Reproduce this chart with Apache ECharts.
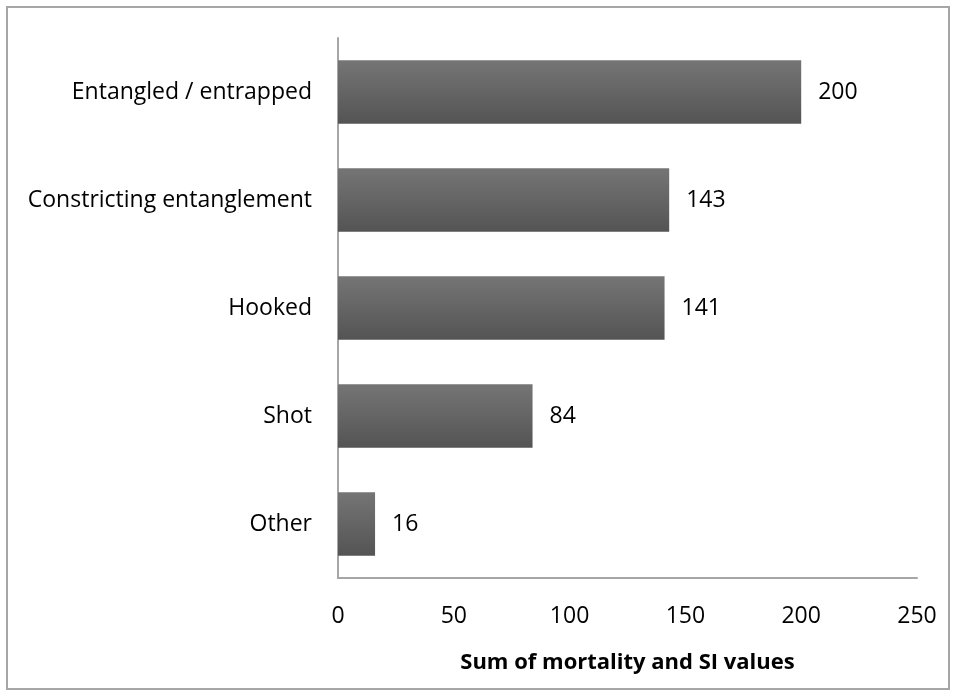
<!DOCTYPE html>
<html>
<head>
<meta charset="utf-8">
<script src="https://cdn.jsdelivr.net/npm/echarts@6/dist/echarts.min.js"></script>
<style>
  html, body { margin: 0; padding: 0; background: #fff; }
  #frame { position: absolute; left: 6px; top: 6px; width: 944px; height: 684px; border: 2px solid #a6a6a6; box-sizing: border-box; }
  #chart { width: 959px; height: 700px; }
</style>
</head>
<body>
<div id="frame"></div>
<div id="chart"></div>
<script>
  // categories from bottom to top (category axis starts at the bottom)
  var categories = ['Other', 'Shot', 'Hooked', 'Constricting entanglement', 'Entangled / entrapped']
  var values = [16, 84, 141, 143, 200]
  var xTicks = [0, 50, 100, 150, 200, 250]

  var font = '"Open Sans", sans-serif'
  var chart = echarts.init(document.getElementById('chart'))

  chart.setOption({
    animation: false,
    grid: {
      left: 338,
      right: 42,
      top: 38,
      bottom: 122,
      containLabel: false
    },
    xAxis: {
      type: 'value',
      min: xTicks[0],
      max: xTicks[xTicks.length - 1],
      interval: 50,
      name: 'Sum of mortality and SI values',
      nameLocation: 'middle',
      nameGap: 74,
      nameTextStyle: { fontFamily: font, fontSize: 22, fontWeight: 'bold', color: '#000' },
      axisLine: { show: true, lineStyle: { color: '#a6a6a6', width: 2 } },
      axisTick: { show: false },
      splitLine: { show: false },
      axisLabel: { fontFamily: font, fontSize: 23, color: '#000', margin: 27 }
    },
    yAxis: {
      type: 'category',
      data: categories,
      axisLine: { show: true, lineStyle: { color: '#a6a6a6', width: 2 } },
      axisTick: { show: false },
      axisLabel: { fontFamily: font, fontSize: 23, color: '#000', margin: 26 }
    },
    series: [{
      type: 'bar',
      data: values,
      barWidth: '59%',
      itemStyle: {
        color: new echarts.graphic.LinearGradient(0, 0, 0, 1, [
          { offset: 0, color: '#757575' },
          { offset: 1, color: '#545454' }
        ])
      },
      label: {
        show: true,
        position: 'right',
        distance: 17,
        fontFamily: font,
        fontSize: 23,
        color: '#000'
      }
    }]
  })
</script>
</body>
</html>
